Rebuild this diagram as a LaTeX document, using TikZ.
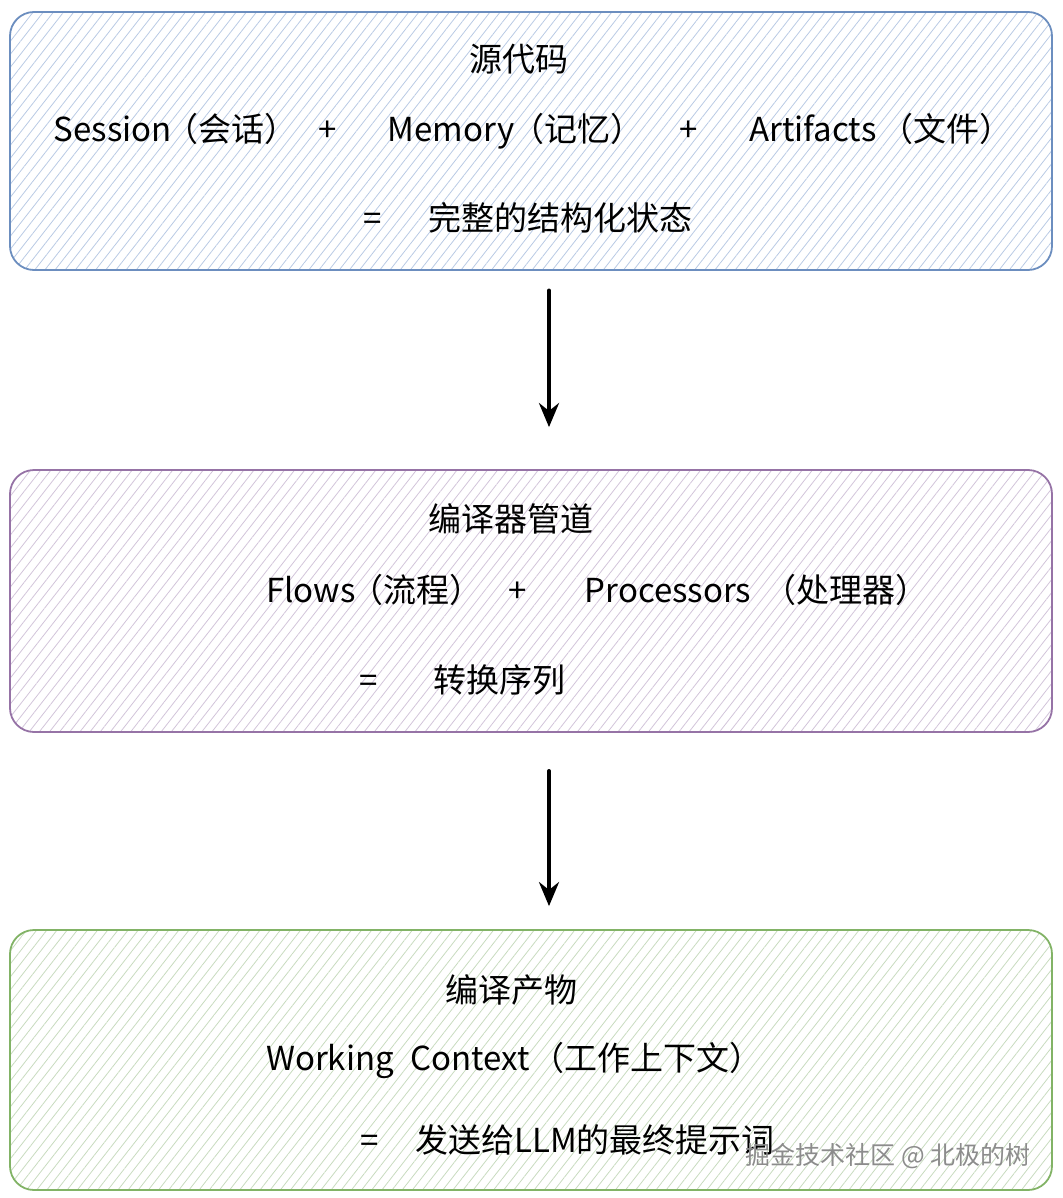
\documentclass[tikz,border=0pt]{standalone}
\usepackage{fontspec}
\setmainfont{Noto Sans CJK SC}
\usepackage{tikz}
\usetikzlibrary{arrows.meta,patterns.meta}

\definecolor{boxblue}{HTML}{6C8EBF}
\definecolor{hatchblue}{HTML}{B9CAE4}
\definecolor{boxpurple}{HTML}{9673A6}
\definecolor{hatchpurple}{HTML}{D2C4DA}
\definecolor{boxgreen}{HTML}{82B366}
\definecolor{hatchgreen}{HTML}{C8DBBF}

\tikzset{
  stagebox/.style={draw=#1, line width=1.8pt, rounded corners=24pt,
    minimum width=1042pt, inner sep=0pt,
    pattern={Lines[angle=52,distance=8pt,line width=0.8pt]}},
  txt/.style={anchor=base, inner sep=0pt, font=\fontsize{33}{38}\selectfont},
  flow/.style={-{Stealth[length=24pt,width=20pt]}, line width=3.8pt, line cap=round},
}

\begin{document}
\begin{tikzpicture}[x=1pt, y=-1pt]
  \useasboundingbox (0,0) rectangle (1062,1198);

  % boxes
  \node[stagebox=boxblue, pattern color=hatchblue, minimum height=258pt] (srcbox) at (531,141) {};
  \node[stagebox=boxpurple, pattern color=hatchpurple, minimum height=262pt] (pipebox) at (531,601) {};
  \node[stagebox=boxgreen, pattern color=hatchgreen, minimum height=260pt] (outbox) at (531,1060) {};

  % source code
  \node[txt] (src)   at (519,72)  {源代码};
  \node[txt] (sess)  at (113,142) {Session};
  \node[txt] (sessz) at (231,142) {（会话）};
  \node[txt] (plA)   at (328,142) {+};
  \node[txt] (mem)   at (451,142) {Memory};
  \node[txt] (memz)  at (577,142) {（记忆）};
  \node[txt] (plB)   at (689,142) {+};
  \node[txt] (art)   at (813,142) {Artifacts};
  \node[txt] (artz)  at (946,142) {（文件）};
  \node[txt] (eqA)   at (373,230) {=};
  \node[txt] (state) at (560,230) {完整的结构化状态};

  % compiler pipeline
  \node[txt] (pipe)  at (511,531) {编译器管道};
  \node[txt] (flows) at (311,602) {Flows};
  \node[txt] (flowz) at (416,602) {（流程）};
  \node[txt] (plC)   at (518,602) {+};
  \node[txt] (proc)  at (668,602) {Processors};
  \node[txt] (procz) at (846,602) {（处理器）};
  \node[txt] (eqB)   at (369,692) {=};
  \node[txt] (seq)   at (499,692) {转换序列};

  % compiled output
  \node[txt] (out)   at (511,1002) {编译产物};
  \node[txt] (work)  at (330,1070) {Working};
  \node[txt] (ctx)   at (470,1070) {Context};
  \node[txt] (ctxz)  at (647,1070) {（工作上下文）};
  \node[txt] (eqC)   at (370,1152) {=};
  \node[txt] (prompt) at (595,1152) {发送给LLM的最终提示词};

  \node[anchor=base, inner sep=0pt, text=black!45, font=\fontsize{25}{29}\selectfont]
    (mark) at (888,1164) {掘金技术社区 @ 北极的树};

  \draw[flow, shorten <=20pt, shorten >=42pt] ([xshift=18pt]srcbox.south) -- ([xshift=18pt]pipebox.north);
  \draw[flow, shorten <=38pt, shorten >=23pt] ([xshift=18pt]pipebox.south) -- ([xshift=18pt]outbox.north);
\end{tikzpicture}
\end{document}
